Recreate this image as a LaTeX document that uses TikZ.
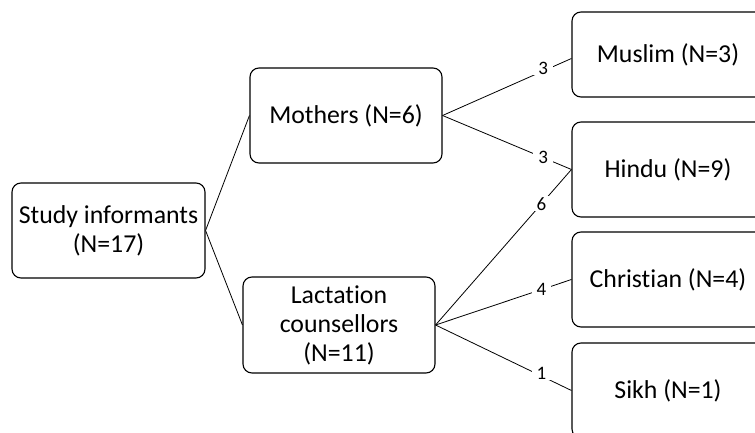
\documentclass[tikz,border=0pt]{standalone}
\usepackage{fontspec}
\setmainfont{Carlito}[RawFeature={-liga;-clig;-dlig}]
\begin{document}
\begin{tikzpicture}[x=1pt,y=-1pt,
  box/.style={draw=black, line width=1.1pt, rounded corners=9pt, minimum width=193pt, minimum height=95pt, align=center, font=\fontsize{25.8}{29}\selectfont, inner sep=0pt},
  conn/.style={draw=black, line width=0.8pt},
  num/.style={fill=white, font=\fontsize{19}{21}\selectfont, inner xsep=5pt, inner ysep=1pt, pos=0.78}]
\useasboundingbox (0,0) rectangle (755,433);
\clip (0,0) rectangle (755,433);
\node[box] (study) at (108.5,230.5) {Study informants\\(N=17)};
\node[box, minimum width=192pt] (mothers) at (346,115.5) {Mothers (N=6)};
\node[box, minimum width=192pt, minimum height=96pt] (lact) at (339,325) {Lactat\kern0pt ion\\counsellors\\(N=11)};
\node[box, minimum width=192pt, minimum height=85pt] (muslim) at (668,54.5) {Muslim (N=3)};
\node[box, minimum width=192pt] (hindu) at (668,169.5) {Hindu (N=9)};
\node[box, minimum width=192pt] (christian) at (668,279.5) {Christ\kern0pt ian (N=4)};
\node[box, minimum width=192pt] (sikh) at (668,390.5) {Sikh (N=1)};
\draw[conn] (study.east) -- (mothers.west);
\draw[conn] (study.east) -- (lact.west);
\draw[conn] (mothers.east) -- node[num, yshift=3pt]{3} ([yshift=-4pt]muslim.west);
\draw[conn] (mothers.east) -- node[num]{3} (hindu.west);
\draw[conn] (lact.east) -- node[num]{6} (hindu.west);
\draw[conn] (lact.east) -- node[num]{4} (christian.west);
\draw[conn] (lact.east) -- node[num, yshift=3pt]{1} (sikh.west);
\end{tikzpicture}
\end{document}
